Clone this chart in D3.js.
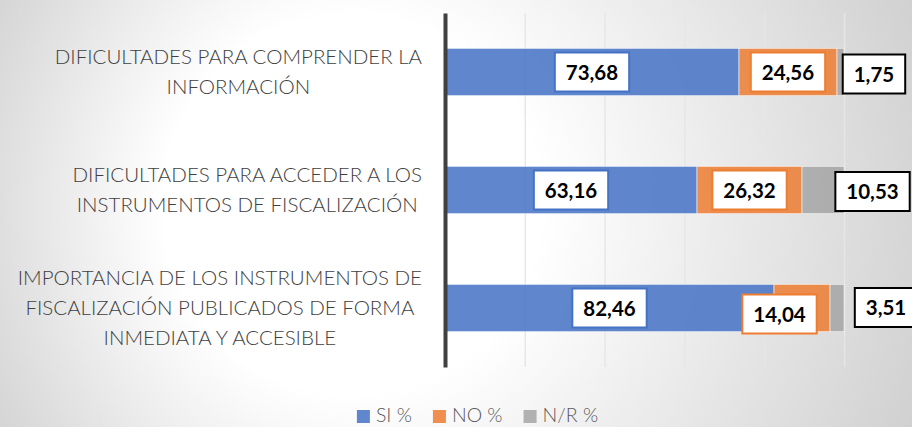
<!DOCTYPE html>
<html><head><meta charset="utf-8">
<script src="https://cdn.jsdelivr.net/npm/d3@7"></script>
<style>html,body{margin:0;padding:0;background:#fff;} svg{display:block;}</style>
</head><body>
<svg id="chart" width="912" height="427"></svg>
<script>
// ---------- data ----------
const categories = [
  ["DIFICULTADES PARA COMPRENDER LA", "INFORMACIÓN"],
  ["DIFICULTADES PARA ACCEDER A LOS", "INSTRUMENTOS DE FISCALIZACIÓN"],
  ["IMPORTANCIA DE LOS INSTRUMENTOS DE", "FISCALIZACIÓN PUBLICADOS DE FORMA", "INMEDIATA Y ACCESIBLE"]
];
const seriesNames = ["SI %", "NO %", "N/R %"];
const siValues = [73.68, 63.16, 82.46];
const noValues = [24.56, 26.32, 14.04];
const nrValues = [1.75, 10.53, 3.51];
const xTicks = [0, 20, 40, 60, 80, 100];

// ---------- setup ----------
const W = 912, H = 427;
const FONT = "Lato, 'Open Sans', sans-serif";
const barColors = ["#4472C4", "#ED7D31", "#A5A5A5"];
const boxStroke = ["#4472C4", "#ED7D31", "#000000"];
const svg = d3.select("#chart");
const defs = svg.append("defs");

const bg = defs.append("radialGradient").attr("id", "bg")
  .attr("gradientUnits", "userSpaceOnUse")
  .attr("cx", 450).attr("cy", 213).attr("r", 540).attr("fx", 300).attr("fy", 200);
bg.append("stop").attr("offset", 0).attr("stop-color", "#ffffff");
bg.append("stop").attr("offset", 0.35).attr("stop-color", "#ffffff");
bg.append("stop").attr("offset", 1).attr("stop-color", "#cdcdcd");
svg.append("rect").attr("width", W).attr("height", H).attr("fill", "url(#bg)");

const gridGrad = defs.append("linearGradient").attr("id", "gridg")
  .attr("gradientUnits", "userSpaceOnUse").attr("x1", 0).attr("y1", 13).attr("x2", 0).attr("y2", 367);
gridGrad.append("stop").attr("offset", 0).attr("stop-color", "#e6e6e6");
gridGrad.append("stop").attr("offset", 1).attr("stop-color", "#a8a8a8");

const plotTop = 13, plotBottom = 367;
const x = d3.scaleLinear().domain([0, 100]).range([445, 844]);
const y = d3.scaleBand().domain(d3.range(categories.length))
  .range([plotTop, plotBottom]).paddingInner(0.6).paddingOuter(0.3);

// gridlines
const grid = svg.append("g").attr("transform", `translate(0,${plotBottom})`)
  .call(d3.axisBottom(x).tickValues(xTicks).tickSize(-(plotBottom - plotTop)).tickFormat(""));
grid.select(".domain").remove();
grid.selectAll(".tick line").attr("stroke", "url(#gridg)").attr("stroke-width", 1.4);

// stacked bars
const table = categories.map((c, i) => ({ i, s0: siValues[i], s1: noValues[i], s2: nrValues[i] }));
const stack = d3.stack().keys(["s0", "s1", "s2"]);
const layers = stack(table);

const gBars = svg.append("g");
layers.forEach((layer, si) => {
  gBars.selectAll(null).data(layer).join("rect")
    .attr("x", d => x(d[0]))
    .attr("y", d => y(d.data.i))
    .attr("width", d => x(d[1]) - x(d[0]))
    .attr("height", y.bandwidth())
    .attr("fill", barColors[si]).attr("fill-opacity", 0.85)
    .attr("stroke", "#ffffff").attr("stroke-opacity", 0.55).attr("stroke-width", 1);
});

// vertical category axis line
const yAxis = svg.append("g").attr("transform", `translate(445,0)`)
  .call(d3.axisLeft(y).tickSize(0).tickFormat(""));
yAxis.select(".domain").attr("stroke", "#404040").attr("stroke-width", 4);

// category labels
const catG = svg.append("g");
categories.forEach((lines, i) => {
  const cy = y(i) + y.bandwidth() / 2;
  const t = catG.append("text").attr("font-family", FONT).attr("font-size", 20.5)
    .attr("font-weight", 300).attr("fill", "#404040").attr("text-anchor", "middle");
  const n = lines.length;
  const tsp = lines.map((ln, k) => t.append("tspan")
    .attr("y", cy + 7 + (k - (n - 1) / 2) * 30).text(ln));
  const maxW = d3.max(tsp, s => s.node().getComputedTextLength());
  const cx = 422 - maxW / 2;
  tsp.forEach(s => s.attr("x", cx));
});

// data labels
const locale = d3.formatLocale({ decimal: ",", thousands: ".", grouping: [3], currency: ["", ""] });
const fmt = locale.format(".2f");
const labelNudge = { "0-2": [33.5, 2], "1-2": [49.5, 1.5], "2-2": [49, -0.5], "2-1": [-22.5, 6] };
const lblG = svg.append("g");
layers.forEach((layer, si) => {
  layer.forEach(d => {
    const r = d.data.i;
    const nud = labelNudge[`${r}-${si}`] || [0, 0];
    const cx = (x(d[0]) + x(d[1])) / 2 + nud[0];
    const cy = y(r) + y.bandwidth() / 2 + nud[1];
    const g = lblG.append("g");
    const rect = g.append("rect");
    const t = g.append("text").attr("font-family", FONT).attr("font-weight", 700)
      .attr("font-size", 20.5).attr("fill", "#000").attr("text-anchor", "middle")
      .attr("x", cx).attr("y", cy + 7.5).text(fmt(d[1] - d[0]));
    const tw = t.node().getComputedTextLength();
    const bw = tw + 22, bh = 39;
    rect.attr("x", cx - bw / 2).attr("y", cy - bh / 2).attr("width", bw).attr("height", bh)
      .attr("fill", "#fff").attr("stroke", boxStroke[si]).attr("stroke-width", 2);
  });
});

// legend
const legG = svg.append("g");
const items = seriesNames.map((name, i) => {
  const g = legG.append("g");
  g.append("rect").attr("x", 0).attr("y", 410).attr("width", 13).attr("height", 13)
    .attr("fill", barColors[i]).attr("fill-opacity", 0.85);
  const t = g.append("text").attr("x", 19).attr("y", 422).attr("font-family", FONT)
    .attr("font-weight", 300).attr("font-size", 19.5).attr("fill", "#595959").text(name);
  return { g, w: 19 + t.node().getComputedTextLength() };
});
const gap = 21;
const total = d3.sum(items, d => d.w) + gap * (items.length - 1);
let lx = 477.5 - total / 2;
items.forEach(it => { it.g.attr("transform", `translate(${lx},0)`); lx += it.w + gap; });
</script>
</body></html>
